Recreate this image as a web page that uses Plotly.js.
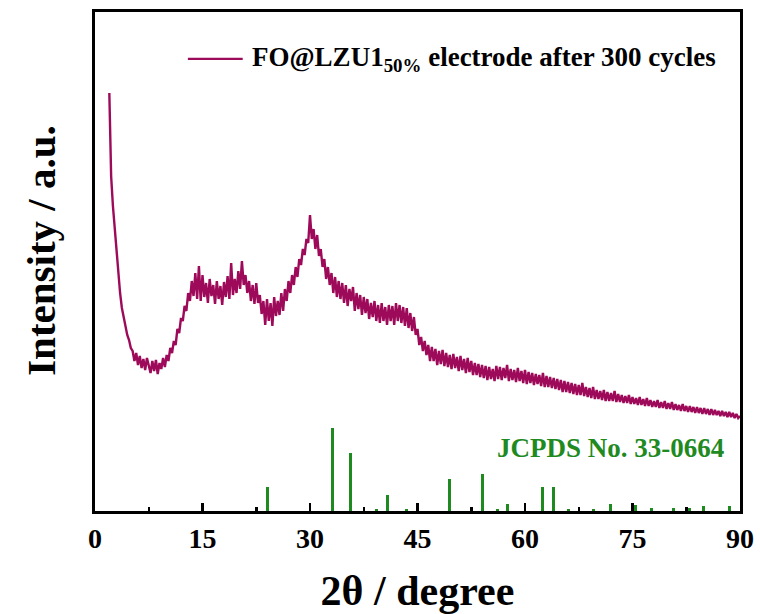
<!DOCTYPE html>
<html>
<head>
<meta charset="utf-8">
<script src="https://cdn.plot.ly/plotly-3.0.1.min.js"></script>
<style>
  html, body { margin: 0; padding: 0; background: #ffffff; }
  #chart { width: 760px; height: 614px; }
</style>
</head>
<body>
<div id="chart"></div>
<script>
// ---- Data ----
// Measured XRD pattern of FO@LZU1(50%) electrode after 300 cycles (arbitrary units)
// sampled every 0.25 degree starting at 2.0 degree (one row per degree)
const patternStart = 2.0;
const patternStep = 0.25;
const patternIntensity = [
  418, 335, 305, 282,
  258, 232, 218, 203,
  194, 185, 176, 171,
  163, 160, 150, 158,
  146, 155, 143, 152,
  141, 153, 144, 138,
  150, 140, 151, 137,
  148, 142, 153, 144,
  156, 150, 163, 158,
  170, 166, 182, 178,
  193, 190, 205, 200,
  218, 210, 230, 215,
  238, 212, 245, 210,
  236, 214, 228, 208,
  232, 215, 226, 207,
  230, 212, 225, 206,
  229, 214, 235, 212,
  248, 216, 232, 218,
  240, 222, 250, 226,
  236, 218, 230, 210,
  226, 207, 228, 208,
  216, 197, 210, 186,
  212, 190, 208, 185,
  214, 195, 210, 196,
  218, 200, 222, 210,
  230, 218, 236, 226,
  244, 234, 252, 246,
  262, 256, 272, 268,
  296, 272, 282, 262,
  276, 255, 262, 244,
  252, 232, 244, 226,
  238, 218, 234, 214,
  230, 212, 228, 208,
  226, 205, 222, 210,
  224, 200, 218, 202,
  216, 196, 214, 198,
  212, 192, 208, 194,
  210, 190, 206, 188,
  208, 190, 204, 186,
  206, 190, 205, 186,
  208, 190, 206, 188,
  204, 185, 203, 183,
  198, 180, 194, 176,
  182, 166, 174, 160,
  170, 156, 166, 150,
  164, 150, 162, 146,
  160, 147, 161, 145,
  158, 144, 156, 142,
  157, 143, 154, 140,
  155, 141, 152, 138,
  153, 139, 150, 136,
  148, 136, 147, 134,
  146, 133, 145, 131,
  144, 132, 142, 130,
  145, 132, 144, 131,
  143, 133, 146, 130,
  142, 131, 141, 129,
  143, 130, 140, 128,
  141, 127, 139, 128,
  138, 126, 137, 127,
  136, 125, 138, 124,
  135, 124, 134, 123,
  133, 122, 132, 121,
  131, 119, 130, 119,
  129, 118, 128, 117,
  127, 116, 126, 116,
  128, 115, 124, 114,
  123, 113, 124, 112,
  121, 112, 120, 111,
  121, 110, 119, 110,
  118, 110, 120, 109,
  117, 109, 116, 108,
  115, 108, 116, 107,
  114, 107, 113, 106,
  114, 106, 112, 105,
  113, 105, 111, 104,
  110, 104, 111, 103,
  109, 103, 110, 102,
  108, 102, 109, 101,
  107, 101, 106, 100,
  107, 100, 105, 99,
  105, 99, 104, 98,
  104, 98, 103, 97,
  103, 97, 102, 96,
  102, 96, 101, 96,
  100, 95, 100, 95,
  99, 94, 99, 94,
  98, 93, 97, 93,
  95
];

// Reference pattern JCPDS No. 33-0664 (peak position, relative intensity)
const refTwoTheta = [24.1, 33.1, 35.6, 39.3, 40.8, 43.5, 49.4, 54.0, 56.1, 57.5,
                     62.4, 64.0, 66.0, 69.6, 71.9, 75.4, 77.7, 80.7, 82.9, 84.9, 88.5];
const refIntensity = [29, 100, 70, 3, 19, 3, 39, 44, 2, 9,
                      29, 29, 2, 3, 9, 7, 4, 4, 4, 6, 6];

const xTickValues = [0, 15, 30, 45, 60, 75, 90];
const xTickLabels = ['0', '15', '30', '45', '60', '75', '90'];

const seriesName = 'FO@LZU1<sub>50%</sub> electrode after 300 cycles';
const refName = 'JCPDS No. 33-0664';
const xTitle = '2θ / degree';
const yTitle = 'Intensity / a.u.';

// ---- Styles ----
const curveColor = '#9E0A5A';
const refColor = '#1F8A1F';
const serif = 'Times New Roman, Liberation Serif, serif';

const traces = [
  {
    type: 'bar',
    x: refTwoTheta,
    y: refIntensity,
    width: 0.42,
    marker: { color: refColor, line: { width: 0 } },
    name: refName,
    showlegend: false,
    xaxis: 'x',
    yaxis: 'y'
  },
  {
    type: 'scatter',
    mode: 'lines',
    x0: patternStart,
    dx: patternStep,
    y: patternIntensity,
    line: { color: curveColor, width: 2.4 },
    name: seriesName,
    showlegend: false,
    xaxis: 'x',
    yaxis: 'y2'
  }
];

const layout = {
  width: 760,
  height: 614,
  margin: { l: 95, r: 20, t: 12, b: 103 },
  paper_bgcolor: '#ffffff',
  plot_bgcolor: '#ffffff',
  showlegend: false,
  bargap: 0,
  xaxis: {
    range: [0, 90],
    tickmode: 'array',
    tickvals: xTickValues,
    ticktext: xTickLabels,
    ticks: 'inside',
    ticklen: 8,
    tickwidth: 2.5,
    tickcolor: '#000',
    minor: { tickmode: 'linear', tick0: 0, dtick: 7.5, ticks: 'inside', ticklen: 4, tickwidth: 2.5, tickcolor: '#000', showgrid: false },
    showline: true,
    linecolor: '#000',
    linewidth: 3,
    mirror: true,
    showgrid: false,
    zeroline: false,
    tickfont: { family: serif, size: 28, color: '#000', weight: 'bold' },
    title: { text: xTitle, font: { family: serif, size: 42, color: '#000', weight: 'bold' }, standoff: 24 },
    automargin: false
  },
  yaxis: {
    range: [0, 601],
    showticklabels: false,
    ticks: '',
    showline: true,
    linecolor: '#000',
    linewidth: 3,
    mirror: true,
    showgrid: false,
    zeroline: false,
    automargin: false
  },
  yaxis2: {
    range: [0, 499],
    overlaying: 'y',
    showticklabels: false,
    ticks: '',
    showline: false,
    showgrid: false,
    zeroline: false
  },
  shapes: [
    { type: 'line', xref: 'paper', yref: 'paper', x0: 0.144, x1: 0.229, y0: 0.906, y1: 0.906,
      line: { color: curveColor, width: 2.2 } }
  ],
  annotations: [
    { xref: 'paper', yref: 'paper', x: -0.084, y: 0.523, xanchor: 'center', yanchor: 'middle',
      text: yTitle, textangle: -90, showarrow: false,
      font: { family: serif, size: 41, color: '#000', weight: 'bold' } },
    { xref: 'paper', yref: 'paper', x: 0.240, y: 0.906, xanchor: 'left', yanchor: 'middle',
      text: seriesName, showarrow: false,
      font: { family: serif, size: 27, color: '#000', weight: 'bold' } },
    { xref: 'paper', yref: 'paper', x: 0.978, y: 0.126, xanchor: 'right', yanchor: 'middle',
      text: refName, showarrow: false,
      font: { family: serif, size: 27, color: refColor, weight: 'bold' } }
  ]
};

Plotly.newPlot('chart', traces, layout, { displayModeBar: false, responsive: false, staticPlot: true });
</script>
</body>
</html>
